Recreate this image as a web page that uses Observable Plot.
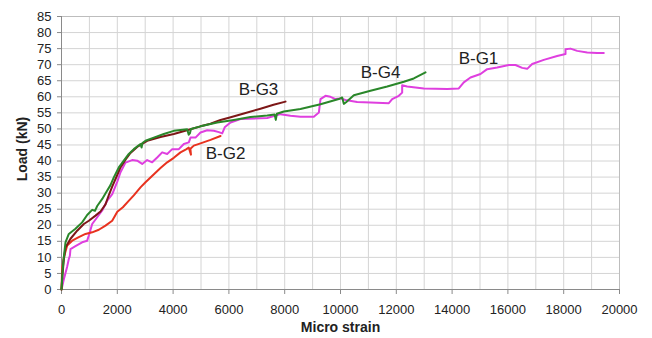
<!DOCTYPE html>
<html><head><meta charset="utf-8">
<script src="https://cdn.jsdelivr.net/npm/d3@7"></script>
<script src="https://cdn.jsdelivr.net/npm/@observablehq/plot@0.6"></script>
<style>body{margin:0;background:#fff} #chart{width:652px;height:338px}</style>
</head><body><div id="chart"></div>
<script>
// ---- data ----
const seriesNames = ["B-G1", "B-G2", "B-G3", "B-G4"];

const bg1Strain = [0, 80, 200, 262, 300, 322, 500, 740, 920, 980, 1100, 1280, 1460, 1640, 1820, 2000, 2115, 2294, 2534, 2713, 2892, 3071, 3250, 3430, 3609, 3788, 3968, 4205, 4385, 4563, 4624, 4803, 4982, 5222, 5460, 5640, 5760, 5850, 6057, 6416, 7373, 7850, 8208, 8566, 9044, 9224, 9283, 9462, 9641, 9821, 10000, 10179, 10597, 11075, 11732, 11852, 12090, 12210, 12210, 12389, 12987, 13824, 14240, 14419, 14659, 15018, 15257, 15616, 16033, 16272, 16512, 16691, 16870, 17287, 17766, 18065, 18065, 18244, 18484, 18842, 19200, 19437];
const bg1Load   = [0, 3, 7, 9.5, 10.5, 12.6, 13.5, 14.7, 15.2, 16.8, 20.4, 22.5, 24.6, 27.7, 29.7, 33.6, 36.5, 39.5, 40.3, 40.1, 39.1, 40.3, 39.6, 41.1, 42.7, 42.2, 43.7, 43.7, 45.3, 45.8, 47.3, 47.3, 48.9, 49.6, 49.4, 49.0, 48.6, 50.5, 52, 53.1, 53.4, 54.6, 54.1, 53.8, 53.8, 55.1, 59.3, 60.3, 60, 59.3, 59.5, 59, 58.4, 58.2, 58, 59.3, 60.3, 61.3, 63.6, 63.2, 62.6, 62.4, 62.6, 64.5, 66, 67.1, 68.6, 69.1, 69.9, 69.9, 69, 68.7, 70.2, 71.5, 72.7, 73.3, 74.8, 75, 74.3, 73.8, 73.6, 73.6];

const bg2Strain = [0, 25, 83, 204, 383, 620, 860, 1100, 1337, 1577, 1817, 2000, 2200, 2400, 2591, 2831, 3011, 3190, 3548, 3788, 4025, 4265, 4480, 4560, 4640, 4620, 4742, 4982, 5341, 5700];
const bg2Load   = [0, 6.9, 10, 13.7, 15.2, 16.3, 17.3, 17.8, 18.6, 19.9, 21.4, 24.2, 25.6, 27.5, 29.3, 31.8, 33.4, 34.9, 37.8, 39.6, 41, 42.7, 43.7, 44.2, 42, 43.8, 44.8, 45.5, 46.6, 47.8];

const bg3Strain = [0, 30, 80, 143, 323, 562, 800, 980, 1219, 1398, 1577, 1700, 1817, 1990, 2115, 2300, 2473, 2713, 3071, 3548, 4025, 4624, 4982, 5341, 5700, 6000, 6535, 7133, 7600, 8029];
const bg3Load   = [0, 4, 9, 13.1, 15.8, 18.3, 20.4, 21.4, 23, 24.3, 26.5, 29.5, 32, 35.5, 38, 40.5, 42.5, 44.4, 46.3, 47.5, 48.4, 49.9, 50.8, 51.6, 52.8, 53.5, 54.8, 56.3, 57.5, 58.5];

const bg4Strain = [0, 40, 83, 143, 262, 500, 740, 920, 1100, 1200, 1280, 1460, 1580, 1756, 1875, 2054, 2233, 2412, 2591, 2831, 2870, 2900, 3011, 3308, 3667, 4025, 4505, 4560, 4600, 4640, 4982, 5581, 6176, 6774, 7373, 7640, 7680, 7720, 7968, 8566, 9283, 9940, 10060, 10119, 10200, 10478, 11075, 11674, 12270, 12627, 13047];
const bg4Load   = [0, 6, 10, 14.7, 17.3, 18.9, 20.9, 23.2, 24.8, 24.5, 26, 28.2, 30, 32.5, 34.9, 38, 40.1, 42.2, 43.7, 45.3, 44.2, 45.6, 46.3, 47.3, 48.4, 49.4, 49.9, 48.2, 48.6, 50, 50.8, 52, 52.8, 53.7, 54.2, 54.5, 52.8, 54.7, 55.4, 56.2, 57.7, 59.3, 59.8, 57.8, 58.3, 60.5, 61.9, 63.2, 64.7, 65.7, 67.6];

const labelText   = ["B-G1", "B-G2", "B-G3", "B-G4"];
const labelStrain = [14946, 5880, 7060, 11434];
const labelLoad   = [71.8, 42.2, 62.2, 67.6];

const xTicks = d3.range(0, 20001, 2000);
const yTicks = d3.range(0, 86, 5);
const xGrid  = d3.range(0, 20001, 1000);

const colors = ["#df3fdf", "#e8321f", "#7d1717", "#2a872a"];

// ---- build table ----
const strains = [bg1Strain, bg2Strain, bg3Strain, bg4Strain];
const loads   = [bg1Load, bg2Load, bg3Load, bg4Load];
const rows = [];
seriesNames.forEach((name, s) => strains[s].forEach((x, i) => rows.push({series: name, strain: x, load: loads[s][i]})));
const labels = labelText.map((t, i) => ({t, x: labelStrain[i], y: labelLoad[i]}));

const chart = Plot.plot({
  width: 652, height: 338,
  marginLeft: 61, marginTop: 16, marginRight: 33, marginBottom: 49,
  style: {fontFamily: "'Liberation Sans', Arial, sans-serif", fontSize: "13px", color: "#222", background: "#fff"},
  x: {domain: [0, 20000]},
  y: {domain: [0, 85]},
  color: {domain: seriesNames, range: colors},
  marks: [
    Plot.gridX(xGrid, {stroke: "#d4d4d4", strokeOpacity: 1}),
    Plot.gridY(yTicks, {stroke: "#d4d4d4", strokeOpacity: 1}),
    Plot.ruleX([20000], {stroke: "#bdbdbd"}),
    Plot.ruleY([85], {stroke: "#bdbdbd"}),
    Plot.ruleY([0], {stroke: "#8a8a8a"}),
    Plot.ruleX([0], {stroke: "#8a8a8a"}),
    Plot.axisX({ticks: xTicks, tickFormat: d3.format("d"), tickSize: 5, tickPadding: 10, stroke: "#8a8a8a", label: null, fill: "#222"}),
    Plot.axisY({ticks: yTicks, tickFormat: d3.format("d"), tickSize: 4, tickPadding: 6, stroke: "#8a8a8a", label: null, fill: "#222"}),
    Plot.line(rows, {x: "strain", y: "load", z: "series", stroke: "series", strokeWidth: 2, curve: "linear"}),
    Plot.text(labels, {x: "x", y: "y", text: "t", fontSize: 17, fill: "#222"}),
    Plot.text(["Micro strain"], {frameAnchor: "bottom", dy: 38, lineAnchor: "middle", textAnchor: "middle", fontWeight: "bold", fontSize: 14, fill: "#222"}),
    Plot.text(["Load (kN)"], {frameAnchor: "left", dx: -39, dy: -4, rotate: -90, lineAnchor: "middle", textAnchor: "middle", fontWeight: "bold", fontSize: 14, fill: "#222"})
  ]
});
document.getElementById("chart").appendChild(chart);
</script>
</body></html>
